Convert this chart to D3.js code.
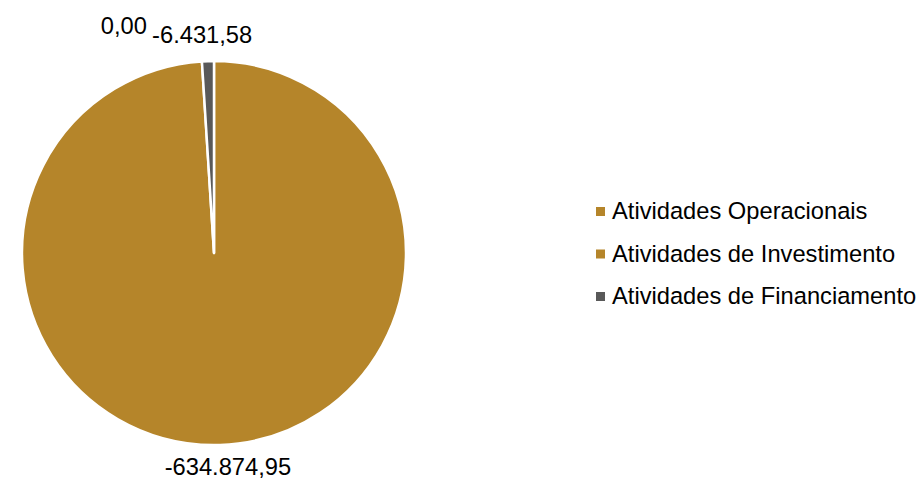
<!DOCTYPE html>
<html><head><meta charset="utf-8">
<script src="https://cdn.jsdelivr.net/npm/d3@7"></script>
<style>
html,body{margin:0;padding:0;background:#fff;}
svg{display:block;font-family:"Liberation Sans",Arial,sans-serif;}
</style></head>
<body>
<svg id="chart" width="922" height="481"></svg>
<script>
const categories = ["Atividades Operacionais","Atividades de Investimento","Atividades de Financiamento"];
const values = [0.00, -634874.95, -6431.58];
const labels = ["0,00","-634.874,95","-6.431,58"];
const colors = ["#B5852A","#B5852A","#595959"];

const svg = d3.select("#chart");
const cx = 214, cy = 253, r = 192;
const fs = 23.7;

const pie = d3.pie().sort(null).value(d => Math.abs(d.v));
const data = categories.map((c,i)=>({c, v: values[i], l: labels[i], col: colors[i]}));
const arcs = pie(data);
const arc = d3.arc().innerRadius(0).outerRadius(r);
const labelArc = d3.arc().innerRadius(r + 26).outerRadius(r + 26);

const g = svg.append("g").attr("transform", `translate(${cx},${cy})`);
g.selectAll("path.slice").data(arcs).join("path")
  .attr("class","slice")
  .attr("d", arc)
  .attr("fill", d => d.data.col)
  .attr("stroke", "#fff")
  .attr("stroke-width", 2.5)
  .attr("stroke-linejoin","round");

// label positions (outside end), nudged like the original layout
const pos = arcs.map(a => {
  const [x,y] = labelArc.centroid(a);
  const below = y > 0;
  return {a, x: below ? x + 7 : x - 5, y: below ? y - 4 : y, anchor: "middle"};
});
// Resolve overlap near the top: zero-size slice label shifted left/up
const w = s => s.length * fs * 0.5;
for (let i = 0; i < pos.length; i++) {
  for (let j = 0; j < pos.length; j++) {
    if (i === j) continue;
    const p = pos[i], q = pos[j];
    if (p.a.data.v === 0 && Math.abs(p.x - q.x) < (w(p.a.data.l) + w(q.a.data.l)) / 2 && Math.abs(p.y - q.y) < fs) {
      p.x = q.x - w(q.a.data.l) / 2 - 2;
      p.y = q.y - 9;
      p.anchor = "end";
    }
  }
}
g.selectAll("text.lbl").data(pos).join("text")
  .attr("class","lbl")
  .attr("x", d => d.x)
  .attr("y", d => d.y)
  .attr("dy", "0.35em")
  .attr("text-anchor", d => d.anchor)
  .attr("font-size", fs)
  .attr("fill", "#000")
  .text(d => d.a.data.l);

// legend
const legY = d3.scalePoint().domain(categories).range([211, 296]);
const leg = svg.append("g");
const items = leg.selectAll("g").data(data).join("g")
  .attr("transform", d => `translate(596,${legY(d.c)})`);
items.append("rect").attr("x",0).attr("y",-4).attr("width",9).attr("height",9).attr("fill", d => d.col);
items.append("text").attr("x",16).attr("y",0).attr("dy","0.35em")
  .attr("font-size", fs).attr("fill","#000").text(d => d.c);
</script>
</body></html>
